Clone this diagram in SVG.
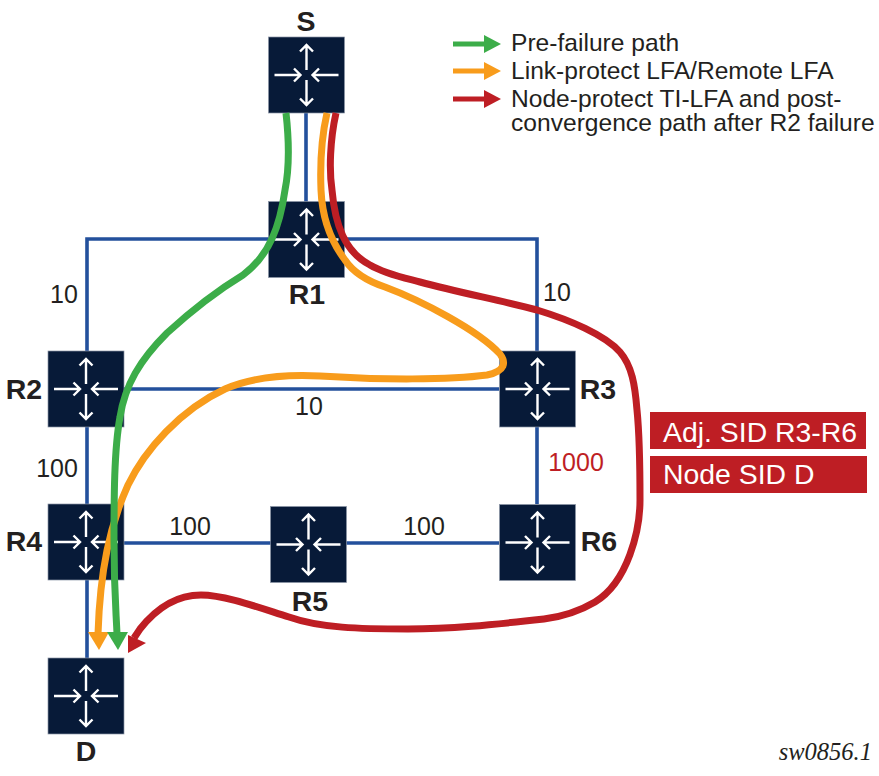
<svg xmlns="http://www.w3.org/2000/svg" width="879" height="776" viewBox="0 0 879 776">
<style>
text{font-family:"Liberation Sans",Arial,sans-serif;fill:#231f20}
.n{font-size:28.500px;font-weight:bold;text-anchor:middle}
.l{font-size:25px;text-anchor:middle}
.g{font-size:24.600px}
.t{font-size:28.400px;fill:#fff}
.box{fill:#071a38;stroke:#8b94a5;stroke-width:.7}
.ar{fill:none;stroke:#fff;stroke-width:2.4}
.link{fill:none;stroke:#23509c;stroke-width:3.6}
.p{fill:none;stroke-width:7}
.tag{fill:#be1e24}
</style>
<defs>
<g id="rt">
<rect class="box" x="-38" y="-38" width="76" height="76"/>
<path class="ar" d="M0-5V-30M-6.500-23.500L0-30L6.500-23.500M0 5V30M-6.500 23.500L0 30L6.500 23.500M-32 0H-6M-12.500-6.500L-6 0L-12.500 6.500M32 0H6M12.500-6.500L6 0L12.500 6.500"/>
</g>
</defs>
<g id="links">
<path class="link" d="M306 113V202M87 390V239H537V390M87 427V658M124 389H499M537 427V504M124 543H271M346 543H499"/>
</g>
<g id="node-S"><use href="#rt" x="306.500" y="75"/><text class="n" x="306" y="31">S</text></g>
<g id="node-R1"><use href="#rt" x="306.500" y="239.500"/><text class="n" x="307" y="304">R1</text></g>
<g id="node-R2"><use href="#rt" x="86" y="389"/><text class="n" x="24" y="399">R2</text></g>
<g id="node-R3"><use href="#rt" x="537.500" y="389"/><text class="n" x="598" y="399">R3</text></g>
<g id="node-R4"><use href="#rt" x="86" y="542"/><text class="n" x="24" y="551">R4</text></g>
<g id="node-R5"><use href="#rt" x="308.500" y="544.500"/><text class="n" x="310" y="611">R5</text></g>
<g id="node-R6"><use href="#rt" x="537.500" y="542.500"/><text class="n" x="599" y="551">R6</text></g>
<g id="node-D"><use href="#rt" x="86" y="696"/><text class="n" x="86" y="761">D</text></g>
<g id="labels">
<text class="l" x="64" y="303">10</text>
<text class="l" x="557" y="301">10</text>
<text class="l" x="309" y="415">10</text>
<text class="l" x="57" y="477">100</text>
<text class="l" x="190" y="535">100</text>
<text class="l" x="424" y="535">100</text>
<text class="l" x="576" y="471" style="fill:#be1e24">1000</text>
</g>
<g id="tags">
<rect class="tag" x="650" y="412" width="216" height="37"/>
<text class="t" x="663" y="442">Adj. SID R3-R6</text>
<rect class="tag" x="650" y="456" width="217" height="37"/>
<text class="t" x="663" y="484">Node SID D</text>
</g>
<g id="connectors">
<path class="p" stroke="#f89c1c" d="M327 113C322 135 320 165 321 190C322 215 330 240 345 260C355 275 370 282 385 287C420 300 478 330 500 354C506 362 506 371 487 375C450 380 380 380 320 376C280 374 250 378 225 389C180 410 145 450 128 485C110 525 100 570 98 634"/>
<path d="M88 632H109L99 650z" fill="#f89c1c"/>
<path class="p" stroke="#3cad49" d="M286 113C289 140 290 165 285 190C280 225 270 255 243 275C215 292 190 312 167 333C140 360 125 385 120 417C114 450 114 500 114 540C114 590 116 610 117 634"/>
<path d="M107 632H128L118 650z" fill="#3cad49"/>
<path class="p" stroke="#be1e24" d="M336 113C330 140 329 170 332 190C335 225 345 252 370 265C385 274 405 278 420 282C460 293 500 300 537 310C570 320 605 335 620 352C632 366 635 385 637 410C640 440 640 480 640 500C640 530 628 582 595 602C578 612 560 617 544 619C490 625 450 629 408 629C360 629 320 628 289 617C260 608 225 595 201 595C175 595 155 610 140 629L134 638"/>
<path d="M128 653V635L146 643z" fill="#be1e24"/>
</g>
<g id="legend">
<path d="M453 44H486" stroke="#3cad49" stroke-width="5"/><path d="M484 35L501 44L484 53z" fill="#3cad49"/>
<path d="M453 71H486" stroke="#f89c1c" stroke-width="5"/><path d="M484 62L501 71L484 80z" fill="#f89c1c"/>
<path d="M453 99H486" stroke="#be1e24" stroke-width="5"/><path d="M484 90L501 99L484 108z" fill="#be1e24"/>
<text class="g" x="511" y="51">Pre-failure path</text>
<text class="g" x="511" y="79">Link-protect LFA/Remote LFA</text>
<text class="g" x="511" y="107">Node-protect TI-LFA and post-</text>
<text class="g" x="511" y="131">convergence path after R2 failure</text>
</g>
<text x="872" y="760" text-anchor="end" style="font-family:'Liberation Serif',serif;font-style:italic;font-size:24.500px">sw0856.1</text>
</svg>
